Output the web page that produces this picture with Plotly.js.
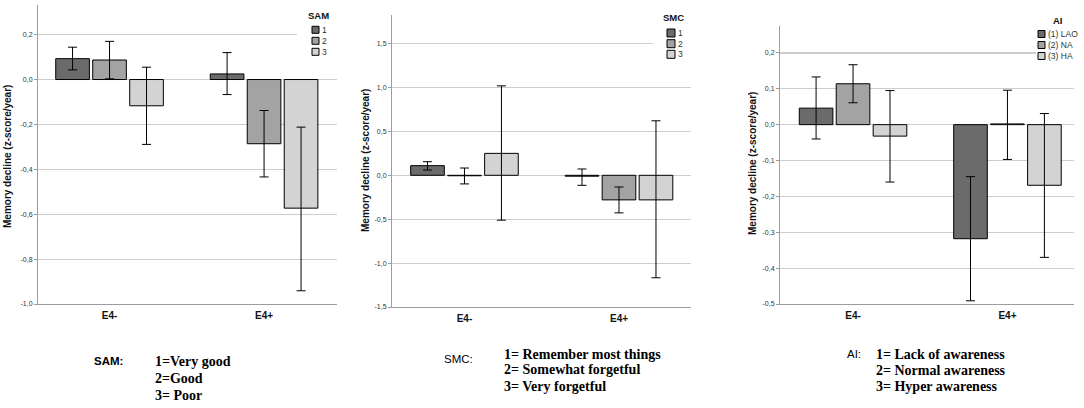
<!DOCTYPE html>
<html>
<head>
<meta charset="utf-8">
<script src="https://cdn.plot.ly/plotly-3.0.1.min.js"></script>
<style>
  html, body { margin: 0; padding: 0; background: #fff; }
  #chart { width: 1084px; height: 408px; }
</style>
</head>
<body>
<div id="chart"></div>
<script>
/* valeurs : [niveau][groupe] */
const groups = ['E4-', 'E4+'];

const samLevels = ['1', '2', '3'];
const samMeans = [[0.093, 0.025], [0.087, -0.286], [-0.117, -0.573]];
const samHigh  = [[0.144, 0.120], [0.170, -0.138], [0.055, -0.212]];
const samLow   = [[0.043, -0.067], [0.003, -0.434], [-0.289, -0.941]];
const samTicks = [-1.0, -0.8, -0.6, -0.4, -0.2, 0.0, 0.2];

const smcLevels = ['1', '2', '3'];
const smcMeans = [[0.11, -0.01], [-0.005, -0.28], [0.25, -0.28]];
const smcHigh  = [[0.155, 0.072], [0.083, -0.133], [1.019, 0.621]];
const smcLow   = [[0.06, -0.114], [-0.098, -0.428], [-0.511, -1.167]];
const smcTicks = [-1.5, -1.0, -0.5, 0.0, 0.5, 1.0, 1.5];

const aiLevels = ['(1) LAO', '(2) NA', '(3) HA'];
const aiMeans = [[0.046, -0.318], [0.114, 0.002], [-0.032, -0.169]];
const aiHigh  = [[0.133, -0.145], [0.167, 0.096], [0.095, 0.031]];
const aiLow   = [[-0.04, -0.491], [0.061, -0.097], [-0.16, -0.37]];
const aiTicks = [-0.5, -0.4, -0.3, -0.2, -0.1, 0.0, 0.1, 0.2];

const samCaption = ['1=Very good', '2=Good', '3= Poor'];
const smcCaption = ['1= Remember most things', '2= Somewhat forgetful', '3= Very forgetful'];
const aiCaption  = ['1= Lack of awareness', '2= Normal awareness', '3= Hyper awareness'];

/* mise en page */
const W = 1084, H = 408;
const colors = ['#6b6b6b', '#a3a3a3', '#d3d3d3'];
const gridColor = '#cdcdcd', axisColor = '#9c9c9c';
const sans = 'Liberation Sans, Arial, sans-serif';
const serif = 'Liberation Serif, Times New Roman, serif';

const px = (x) => x / W;
const py = (y) => 1 - y / H;
const fmt = (v) => v.toFixed(1).replace('.', ',');

const panels = [
  { name: 'SAM', levels: samLevels, means: samMeans, high: samHigh, low: samLow, ticks: samTicks,
    xPx: [38, 337], yPx: [5, 304], yRange: [-1.0, 0.332], xRange: [-0.463, 1.472],
    legTitle: [318, 15.5], swX: [312, 319], swY: [29.8, 40.8, 51.8], labX: 321, cover: [297, 8, 337, 60],
    yTitle: [7, 157],
    caption: samCaption, capLabel: [93, 361], capBold: true, capX: 154, capY: [361, 378, 395] },
  { name: 'SMC', levels: smcLevels, means: smcMeans, high: smcHigh, low: smcLow, ticks: smcTicks,
    xPx: [392, 691], yPx: [15, 307], yRange: [-1.5, 1.826], xRange: [-0.469, 1.466],
    legTitle: [673.5, 17.3], swX: [667, 675], swY: [33, 43.7, 54.3], labX: 677, cover: [653, 8, 691, 62],
    yTitle: [366, 161],
    caption: smcCaption, capLabel: [443, 359], capBold: false, capX: 503, capY: [354, 369.5, 386] },
  { name: 'AI', levels: aiLevels, means: aiMeans, high: aiHigh, low: aiLow, ticks: aiTicks,
    xPx: [780, 1074], yPx: [26, 304], yRange: [-0.5, 0.275], xRange: [-0.473, 1.431],
    legTitle: [1057.5, 20], swX: [1038, 1045], swY: [34, 45, 56], labX: 1047, cover: [1036, 10, 1074, 64],
    yTitle: [752, 164],
    caption: aiCaption, capLabel: [846, 354], capBold: false, capX: 875, capY: [354, 370, 386] },
];

const data = [];
const shapes = [];
const annotations = [];
const layout = {
  width: W, height: H,
  margin: { l: 0, r: 0, t: 0, b: 0, pad: 0 },
  paper_bgcolor: '#fff', plot_bgcolor: '#fff',
  showlegend: false,
  barmode: 'group', bargap: 0.282, bargroupgap: 0.09,
  font: { family: sans, color: '#000' },
};

panels.forEach((p, k) => {
  const sfx = k === 0 ? '' : String(k + 1);
  const xa = 'x' + sfx, ya = 'y' + sfx;

  p.levels.forEach((lev, i) => {
    data.push({
      type: 'bar', name: lev, x: groups, y: p.means[i],
      xaxis: xa, yaxis: ya,
      marker: { color: colors[i], line: { color: '#000', width: 1 } },
      error_y: {
        type: 'data', symmetric: false,
        array: p.high[i].map((h, j) => h - p.means[i][j]),
        arrayminus: p.low[i].map((l, j) => p.means[i][j] - l),
        color: '#000', thickness: 1, width: 4.5,
      },
      hovertemplate: p.name + ' ' + lev + ' %{x}: %{y:.3f}<extra></extra>',
    });

    // légende faite à la main (carrés de l'original plus petits que ceux de Plotly)
    const yc = p.swY[i], half = (p.swX[1] - p.swX[0]) / 2;
    shapes.push({
      type: 'rect', xref: 'paper', yref: 'paper', layer: 'above',
      x0: px(p.swX[0]), x1: px(p.swX[1]), y0: py(yc + half), y1: py(yc - half),
      fillcolor: colors[i], line: { color: '#000', width: 1 },
    });
    annotations.push({
      xref: 'paper', yref: 'paper', x: px(p.labX), y: py(yc), xanchor: 'left', yanchor: 'middle',
      text: lev, showarrow: false, borderpad: 0, font: { size: 8.5, color: '#333', family: sans },
    });
  });

  // fond blanc derrière la légende (coupe la grille du haut)
  shapes.unshift({
    type: 'rect', xref: 'paper', yref: 'paper', layer: 'above',
    x0: px(p.cover[0]), x1: px(p.cover[2]), y0: py(p.cover[3]), y1: py(p.cover[1]),
    fillcolor: '#fff', line: { width: 0 },
  });
  annotations.push({
    xref: 'paper', yref: 'paper', x: px(p.legTitle[0]), y: py(p.legTitle[1]),
    xanchor: 'center', yanchor: 'middle', text: p.name, showarrow: false,
    font: { size: 9.5, family: sans, weight: 'bold', color: '#111' },
  });

  layout['xaxis' + sfx] = {
    domain: [px(p.xPx[0]), px(p.xPx[1])], anchor: ya,
    range: p.xRange, showgrid: false, zeroline: false,
    showline: true, linecolor: axisColor, linewidth: 1, ticks: '',
    tickfont: { size: 10, family: sans, weight: 'bold', color: '#111' },
    ticklabelstandoff: 2, fixedrange: true,
  };
  layout['yaxis' + sfx] = {
    domain: [py(p.yPx[1]), py(p.yPx[0])], anchor: xa,
    range: p.yRange, tickvals: p.ticks, ticktext: p.ticks.map(fmt),
    showgrid: true, gridcolor: gridColor, gridwidth: 1.2, zeroline: false,
    showline: true, linecolor: axisColor, linewidth: 1,
    ticks: 'outside', ticklen: 3, tickcolor: axisColor,
    tickfont: { size: 7, family: sans, color: '#333' }, fixedrange: true,
  };

  annotations.push({
    xref: 'paper', yref: 'paper', x: px(p.yTitle[0]), y: py(p.yTitle[1]),
    xanchor: 'center', yanchor: 'middle', textangle: -90, showarrow: false,
    text: 'Memory decline (z-score/year)',
    font: { size: 10, family: sans, weight: 'bold', color: '#111' },
  });

  // légende texte sous chaque graphique
  annotations.push({
    xref: 'paper', yref: 'paper', x: px(p.capLabel[0]), y: py(p.capLabel[1]),
    xanchor: 'left', yanchor: 'middle', showarrow: false, borderpad: 0,
    text: p.name + ':',
    font: { size: 11.5, family: sans, weight: p.capBold ? 'bold' : 'normal', color: '#000' },
  });
  p.caption.forEach((line, i) => {
    annotations.push({
      xref: 'paper', yref: 'paper', x: px(p.capX), y: py(p.capY[i]),
      xanchor: 'left', yanchor: 'middle', showarrow: false, borderpad: 0,
      text: line, font: { size: 14, family: serif, weight: 'bold', color: '#000' },
    });
  });
});

layout.shapes = shapes;
layout.annotations = annotations;

Plotly.newPlot('chart', data, layout, { displayModeBar: false, staticPlot: true });
</script>
</body>
</html>
